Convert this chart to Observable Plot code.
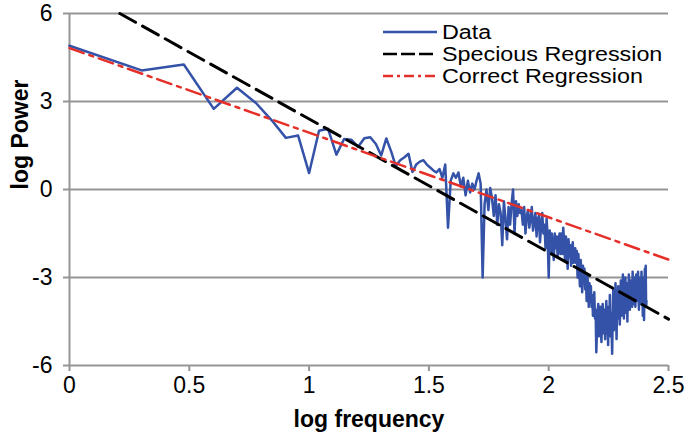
<!DOCTYPE html>
<html><head><meta charset="utf-8">
<script src="https://cdn.jsdelivr.net/npm/d3@7"></script>
<script src="https://cdn.jsdelivr.net/npm/@observablehq/plot@0.6"></script>
<style>
body{margin:0;background:#fff;}
#wrap{position:relative;width:685px;height:440px;font-family:"Liberation Sans",Arial,sans-serif;}
.legend{position:absolute;left:383px;top:21px;font-size:19.6px;color:#000;}
.legend .row{display:flex;align-items:center;height:22px;}
.legend span{display:inline-block;white-space:nowrap;transform:scaleX(1.19);transform-origin:0 50%;}
.legend svg{width:54px;height:22px;margin-right:5px;flex:none;}
</style></head><body><div id="wrap"></div>
<script>
// log Power of each harmonic k = 1..256
const logPower = [
 4.9, 4.06, 4.26, 2.75, 3.47, 2.95, 2.35, 1.76, 1.84, 0.56,
 2.0, 2.07, 1.19, 1.72, 1.7, 1.45, 1.75, 1.78, 1.55, 1.16,
 1.74, 1.3, 0.8, 1.0, 1.1, 1.22, 0.6, 0.85, 0.95, 1.0,
 0.85, 0.75, 0.65, 0.58, 0.7, 0.4, 0.85, -1.3, 0.3, 0.55,
 0.4, 0.58, 0.1, 0.4, -0.2, 0.3, -0.1, 0.2, 0.0, 0.3,
 0.55, 0.2, -3.0, -0.5, 0.0, -0.7, 0.05, -0.3, -0.9, -0.2,
 -1.2, -0.5, -0.8, -1.9, -0.4, -1.0, -1.7, -0.6, -1.2, -0.5,
 0.0, -1.5, -0.4, -0.9, -0.5, -0.8,
 -0.7, -1.2, -0.6, -1.5, -0.9, -0.7, -1.3, -1.0, -0.6, -1.4, -1.1, -0.8, -1.6, -1.0, -0.9, -1.8, -1.2, -0.8, -1.5,
 -1.2, -2.0, -1.0, -1.6, -3.0, -1.4, -2.2, -1.5, -1.9, -2.4, -1.5, -2.0, -1.6, -2.3, -1.8, -1.5, -2.2,
 -1.5, -2.2, -1.3, -1.8, -2.4, -1.6, -2.0, -2.7, -1.7, -2.3, -1.9, -2.6, -2.1, -1.8, -2.5, -2.2, -2.0,
 -2.5, -2.1, -3.0, -2.2, -2.7, -3.3, -2.4, -2.9, -3.5, -2.6, -3.1, -2.7, -3.4, -3.0, -3.8, -2.9, -3.3, -4.0, -3.2, -3.7,
 -3.3, -4.0, -3.6, -4.3, -3.8, -3.5, -4.4, -4.1, -5.55, -4.8, -4.2, -3.9, -5.0, -4.4, -4.0, -4.7, -5.2, -4.3, -3.9, -4.9, -4.5, -4.1, -5.1,
 -4.3, -3.8, -4.9, -4.4, -5.3, -4.0, -4.6, -3.6, -5.0, -4.2, -4.7, -5.6, -4.3, -3.4, -4.8, -3.9, -4.5, -3.2, -4.2, -5.1, -3.7, -4.4, -3.3,
 -4.0, -3.5, -4.6, -3.8, -3.1, -4.3, -3.6, -4.1, -2.9, -3.7, -4.4, -3.3, -3.9, -3.0, -4.2, -3.6, -3.2, -4.5, -3.5, -3.9, -2.9, -3.4, -4.1, -3.7, -3.1, -3.8, -3.3, -4.0, -2.8, -3.5, -3.9,
 -3.2, -3.7, -3.0, -4.0, -3.4, -2.9, -3.8, -3.3, -3.6, -2.8, -3.5, -4.1, -3.1, -3.6, -3.0, -3.9, -3.4, -2.8, -3.7, -3.2, -4.3, -3.5, -3.0, -4.45, -3.3, -2.7, -3.6, -2.6, -4.0, -3.8
];
const xTicks = [0, 0.5, 1, 1.5, 2, 2.5];
const yTicks = [-6, -3, 0, 3, 6];
const speciousX = [0.21, 2.5];
const speciousY = [6.0, -4.42];
const correctX = [0, 2.5];
const correctY = [4.82, -2.39];
const seriesNames = ["Data", "Specious Regression", "Correct Regression"];
const colors = {data: "#3352a8", specious: "#000000", correct: "#e5302a"};
const dashes = {data: null, specious: "18,8", correct: "15,6,4,6"};

const dataRows = logPower.map((p, i) => ({x: Math.log10(i + 1), y: p}));
const specRows = speciousX.map((x, i) => ({x, y: speciousY[i]}));
const corrRows = correctX.map((x, i) => ({x, y: correctY[i]}));

const fam = "Liberation Sans, Arial, sans-serif";
const chart = Plot.plot({
  width: 685, height: 440,
  marginLeft: 69, marginRight: 17, marginTop: 13, marginBottom: 75,
  style: {fontFamily: fam, background: "white", overflow: "visible"},
  x: {domain: [0, 2.5]},
  y: {domain: [-6, 6]},
  marks: [
    Plot.gridY(yTicks, {stroke: "#959595", strokeOpacity: 1, strokeWidth: 2}),
    Plot.ruleX([0], {stroke: "#959595", strokeWidth: 2}),
    Plot.axisY(yTicks, {tickSize: 6, tickPadding: 11, stroke: "#959595", strokeWidth: 2, fill: "#000",
      fontSize: 23, tickFormat: d => String(d), label: null}),
    Plot.axisX(xTicks, {tickSize: 6, tickPadding: 5, stroke: "#959595", strokeWidth: 2, fill: "#000",
      fontSize: 23, tickFormat: d => String(d), label: null}),
    Plot.line(dataRows, {x: "x", y: "y", stroke: colors.data, strokeWidth: 2.5, strokeLinejoin: "round"}),
    Plot.line(specRows, {x: "x", y: "y", stroke: colors.specious, strokeWidth: 3, strokeDasharray: dashes.specious}),
    Plot.line(corrRows, {x: "x", y: "y", stroke: colors.correct, strokeWidth: 2.5, strokeDasharray: dashes.correct}),
    Plot.text(["log frequency"], {frameAnchor: "bottom", dy: 61, text: d => d, fontWeight: "bold", fontSize: 23, fill: "#000"}),
    Plot.text(["log Power"], {frameAnchor: "left", dx: -49, rotate: -90, text: d => d, fontWeight: "bold", fontSize: 23, fill: "#000"})
  ]
});
const wrap = document.getElementById("wrap");
wrap.appendChild(chart);

const legend = document.createElement("div");
legend.className = "legend";
const keys = ["data", "specious", "correct"];
keys.forEach((k, i) => {
  const row = document.createElement("div");
  row.className = "row";
  const dash = dashes[k] ? `stroke-dasharray="${k === 'specious' ? '14,4' : '10,4,3,4'}"` : "";
  row.innerHTML = `<svg viewBox="0 0 54 22"><line x1="0" y1="11" x2="54" y2="11" stroke="${colors[k]}" stroke-width="2.5" ${dash}/></svg><span>${seriesNames[i]}</span>`;
  legend.appendChild(row);
});
wrap.appendChild(legend);
</script>
</body></html>
